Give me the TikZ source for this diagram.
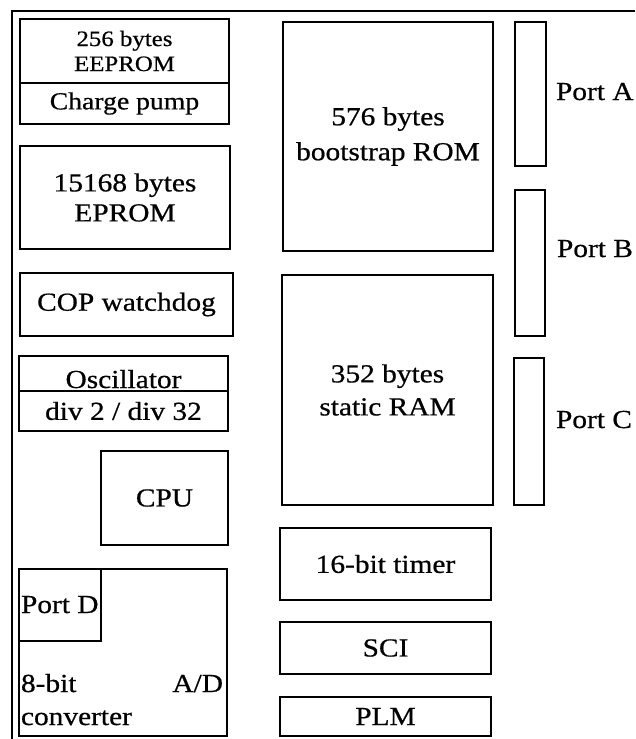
\documentclass[tikz,border=0pt]{standalone}
\usepackage{fontspec}
\setmainfont{Liberation Serif}[FakeStretch=1.13,FakeBold=0.6]
\begin{document}
\begin{tikzpicture}[x=1pt,y=-1pt,
  blk/.style={draw,line width=1.3pt,inner sep=0pt,outer sep=0pt,align=center,
    font=\fontsize{26}{33}\selectfont},
  lbl/.style={inner sep=0pt,outer sep=0pt,font=\fontsize{26}{33}\selectfont}]
\useasboundingbox (0,0) rectangle (635,739);
% outer frame (partly visible)
\coordinate (ftr) at (635,11);
\coordinate (ftl) at (12,11);
\coordinate (fbl) at (12,739);
\draw[line width=1.3pt] (ftr) -- (ftl) -- (fbl);
% left column
\node[blk,minimum width=209,minimum height=64,font=\fontsize{22}{25}\selectfont] (eeprom) at (124.5,51) {256 bytes\\EEPROM};
\node[blk,minimum width=209,minimum height=41,font=\fontsize{24.5}{28}\selectfont] (pump) at (124.5,103.5) {Charge pump};
\node[blk,minimum width=210,minimum height=103,font=\fontsize{26}{30}\selectfont] (eprom) at (125,197.5) {15168 bytes\\EPROM};
\node[blk,minimum width=213,minimum height=63] (cop) at (126.5,304.5) {COP watchdog};
\node[blk,minimum width=209,minimum height=35] (osc) at (123.5,373.5) {};
\node[lbl,anchor=base] (osct) at (123.5,388) {Oscillator};
\node[blk,minimum width=209,minimum height=40] (div) at (123.5,411) {div 2 / div 32};
\node[blk,minimum width=127,minimum height=94] (cpu) at (164.5,498) {CPU};
\node[blk,minimum width=208,minimum height=167] (ad) at (123,652.5) {};
\node[blk,minimum width=82,minimum height=72] (portd) at (60,605) {};
\node[lbl,anchor=base west] (portdt) at (21,613) {Port D};
\node[lbl,anchor=base west] (adt1) at (21,692) {8-bit};
\node[lbl,anchor=base east] (adt2) at (223,692) {A/D};
\node[lbl,anchor=base west] (adt3) at (21,725) {converter};
% middle column
\node[blk,minimum width=210,minimum height=229,font=\fontsize{26}{35}\selectfont] (rom) at (388,136.5) {576 bytes\\bootstrap ROM};
\node[blk,minimum width=211,minimum height=230] (ram) at (387.5,390) {352 bytes\\static RAM};
\node[blk,minimum width=211,minimum height=72] (timer) at (385.5,564) {16-bit timer};
\node[blk,minimum width=211,minimum height=52] (sci) at (385.5,648) {SCI};
\node[blk,minimum width=211,minimum height=39] (plm) at (385.5,716.5) {PLM};
% ports
\node[blk,minimum width=31,minimum height=144] (pa) at (530.5,94) {};
\node[blk,minimum width=30,minimum height=146] (pb) at (530,263) {};
\node[blk,minimum width=30,minimum height=147] (pc) at (529,431.5) {};
\node[lbl,anchor=base west] (pat) at (556,100) {Port A};
\node[lbl,anchor=base west] (pbt) at (557,257) {Port B};
\node[lbl,anchor=base west] (pct) at (556,428) {Port C};
\end{tikzpicture}
\end{document}
